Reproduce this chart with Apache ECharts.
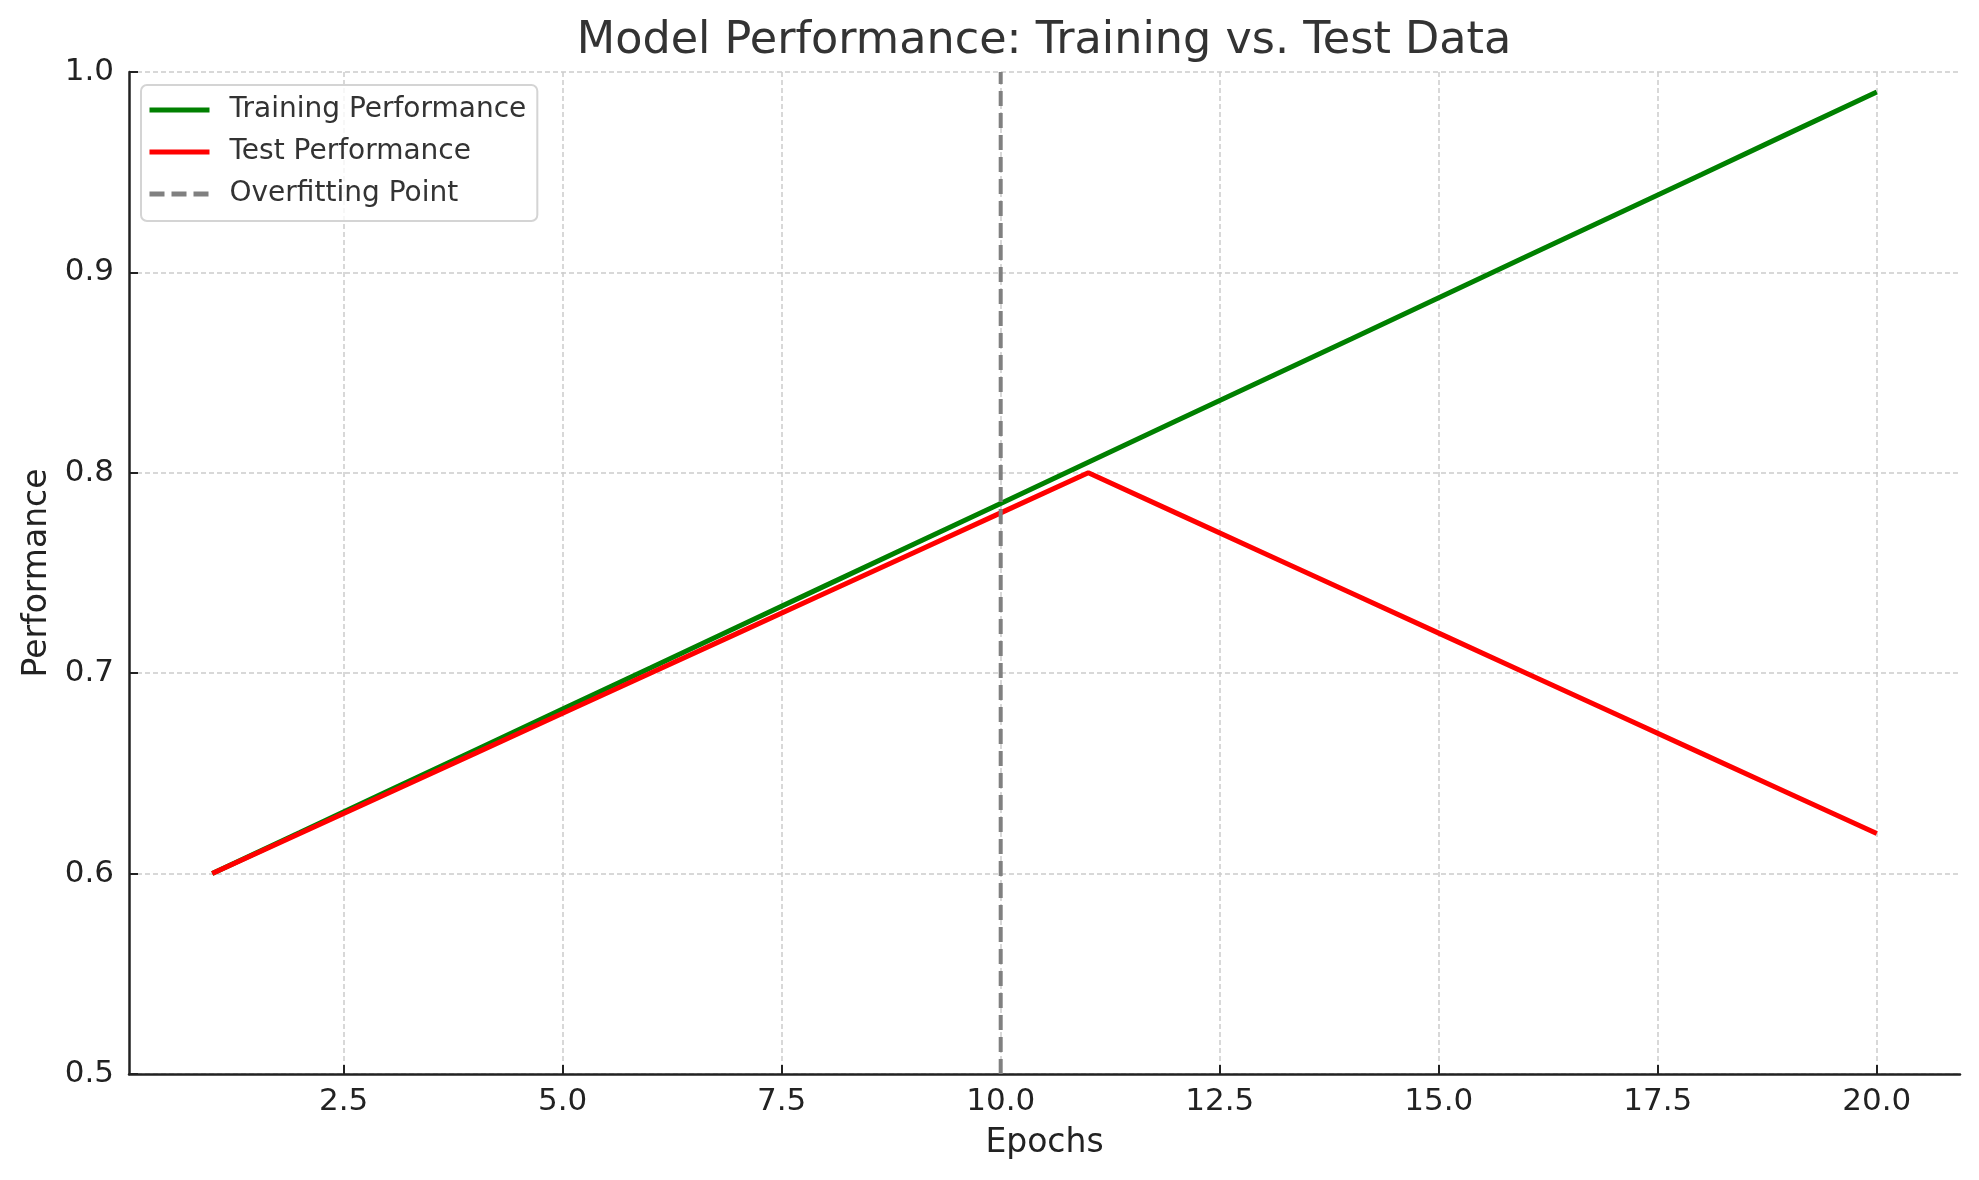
<!DOCTYPE html>
<html>
<head>
<meta charset="utf-8">
<script src="https://cdn.jsdelivr.net/npm/echarts@6/dist/echarts.min.js"></script>
<style>html,body{margin:0;padding:0;background:#fff;}#c{width:1979px;height:1180px;}</style>
</head>
<body>
<div id="c"></div>
<script>
const epochs = [1,2,3,4,5,6,7,8,9,10,11,12,13,14,15,16,17,18,19,20];
const trainingPerf = [0.6000,0.6205,0.6411,0.6616,0.6821,0.7026,0.7232,0.7437,0.7642,0.7847,0.8053,0.8258,0.8463,0.8668,0.8874,0.9079,0.9284,0.9489,0.9695,0.9900];
const testPerf = [0.60,0.62,0.64,0.66,0.68,0.70,0.72,0.74,0.76,0.78,0.80,0.78,0.76,0.74,0.72,0.70,0.68,0.66,0.64,0.62];
const overfitEpoch = [10];
const xTicks = [2.5,5.0,7.5,10.0,12.5,15.0,17.5,20.0];
const yTicks = [0.5,0.6,0.7,0.8,0.9,1.0];

const FONT = '"DejaVu Sans", sans-serif';
const chart = echarts.init(document.getElementById('c'), null, {renderer:'canvas'});

const trainData = epochs.map((e,i)=>[e, trainingPerf[i]]);
const testData = epochs.map((e,i)=>[e, testPerf[i]]);
const overfitData = [[overfitEpoch[0], yTicks[0]], [overfitEpoch[0], yTicks[yTicks.length-1]]];

chart.setOption({
  animation: false,
  backgroundColor: '#ffffff',
  title: {
    text: 'Model Performance: Training vs. Test Data',
    left: 1039, top: 14, textAlign: 'center',
    textStyle: {fontFamily: FONT, fontSize: 44.5, fontWeight: 'normal', color: '#333333'}
  },
  legend: {
    left: 141, top: 85, orient: 'vertical',
    padding: [10, 11, 12, 6],
    itemWidth: 60, itemHeight: 14, itemGap: 12,
    borderColor: '#d4d4d4', borderWidth: 2, borderRadius: 6,
    backgroundColor: 'rgba(255,255,255,0.8)',
    itemStyle: {opacity: 0},
    lineStyle: {width: 5},
    textStyle: {fontFamily: FONT, fontSize: 28, lineHeight: 30, color: '#333333', padding: [0,0,0,15]},
    data: ['Training Performance', 'Test Performance', 'Overfitting Point']
  },
  grid: {left: 129, right: 19, top: 72, bottom: 106, containLabel: false, outerBoundsMode: 'none'},
  xAxis: {
    type: 'value', min: 0.05, max: 20.95,
    name: 'Epochs', nameLocation: 'middle', nameGap: 53,
    nameTextStyle: {fontFamily: FONT, fontSize: 33, color: '#222222'},
    axisLine: {show: true, onZero: false, lineStyle: {color: '#222222', width: 2.5}},
    axisTick: {show: true, inside: true, length: 9, customValues: xTicks, lineStyle: {color: '#222222', width: 2}},
    axisLabel: {customValues: xTicks, fontFamily: FONT, fontSize: 31, color: '#222222', margin: 12,
      formatter: v => Number(v).toFixed(1)},
    splitLine: {show: true, lineStyle: {color: '#cccccc', width: 1.5, type: [5, 3]}}
  },
  yAxis: {
    type: 'value', min: 0.5, max: 1.0, interval: 0.1,
    name: 'Performance', nameLocation: 'middle', nameGap: 73, nameRotate: 90,
    nameTextStyle: {fontFamily: FONT, fontSize: 33, color: '#222222'},
    axisLine: {show: true, lineStyle: {color: '#222222', width: 2.5}},
    axisTick: {show: true, inside: true, length: 9, lineStyle: {color: '#222222', width: 2}},
    axisLabel: {fontFamily: FONT, fontSize: 31, color: '#222222', margin: 15,
      formatter: v => Number(v).toFixed(1)},
    splitLine: {show: true, lineStyle: {color: '#cccccc', width: 1.5, type: [5, 3]}}
  },
  series: [
    {name: 'Training Performance', type: 'line', data: trainData, symbol: 'none', z: 2,
      lineStyle: {color: '#008000', width: 5}, itemStyle: {color: '#008000'}},
    {name: 'Test Performance', type: 'line', data: testData, symbol: 'none', z: 3,
      lineStyle: {color: '#ff0000', width: 5}, itemStyle: {color: '#ff0000'}},
    {name: 'Overfitting Point', type: 'line', data: overfitData, symbol: 'none', z: 4,
      lineStyle: {color: '#808080', width: 4, type: [15, 7]}, itemStyle: {color: '#808080'}}
  ]
});
</script>
</body>
</html>
